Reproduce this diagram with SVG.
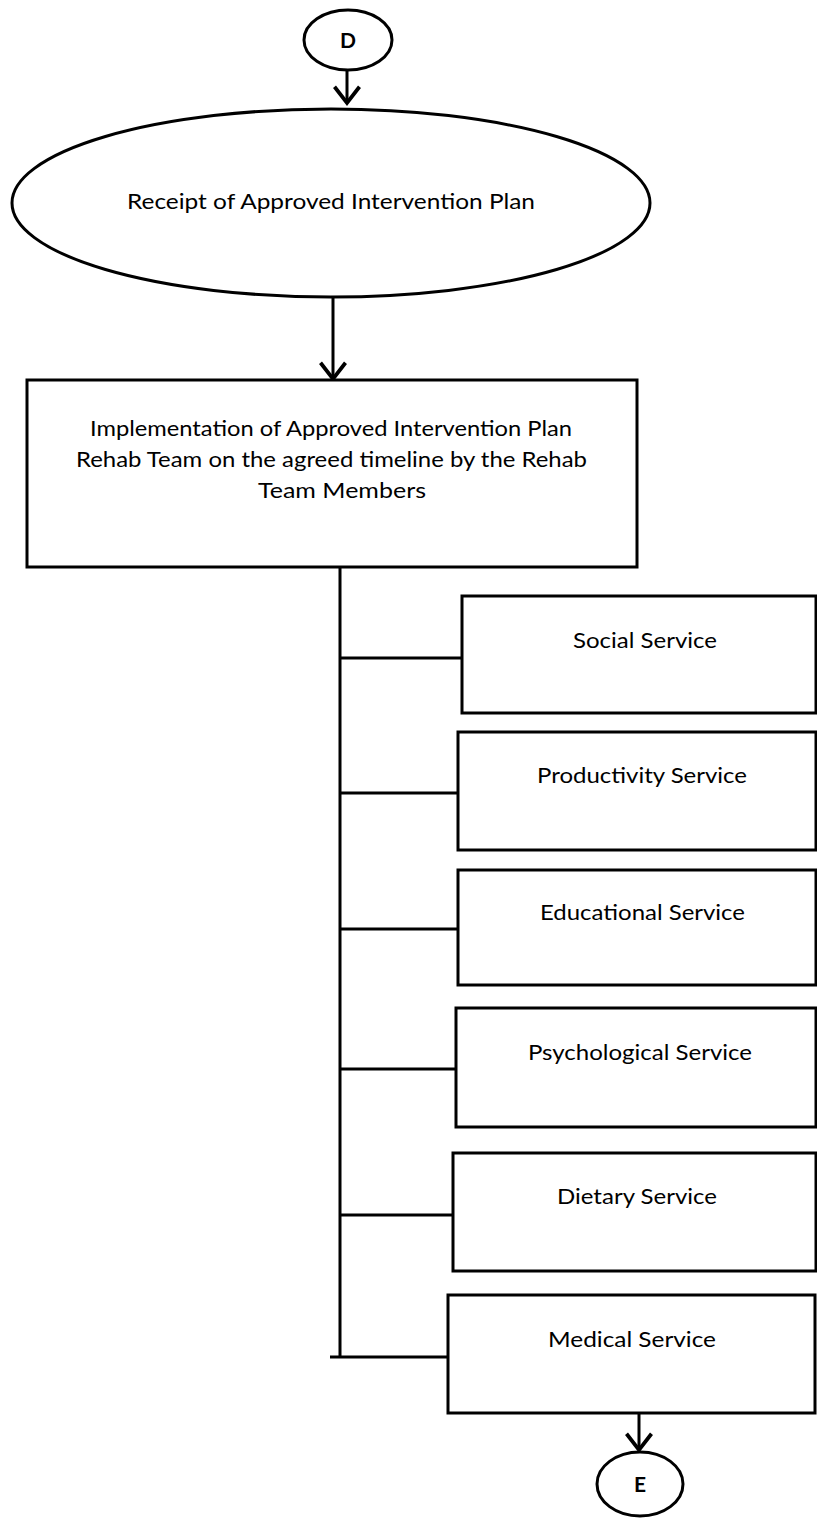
<svg xmlns="http://www.w3.org/2000/svg" width="817" height="1519" viewBox="0 0 817 1519">
<defs>
<style>
.shape{fill:#fff;stroke:#000;stroke-width:3}
.conn{fill:none;stroke:#000;stroke-width:3}
.t{font-family:Lato,"Open Sans","Liberation Sans",sans-serif;font-size:21px;fill:#000;text-anchor:middle}
.b{font-weight:bold}
</style>
<marker id="arr" markerUnits="userSpaceOnUse" markerWidth="30" markerHeight="30" viewBox="-16 -12 20 24" refX="0" refY="0" orient="auto">
<path d="M-13,-10 L0,0 L-13,10" fill="none" stroke="#000" stroke-width="3"/>
</marker>
</defs>
<rect width="817" height="1519" fill="#fff"/>
<g id="connectors">
<line class="conn" x1="347" y1="70" x2="347" y2="103" marker-end="url(#arr)"/>
<line class="conn" x1="333" y1="297" x2="333" y2="379" marker-end="url(#arr)"/>
<line class="conn" x1="340" y1="567" x2="340" y2="1357"/>
<line class="conn" x1="340" y1="658" x2="462" y2="658"/>
<line class="conn" x1="340" y1="793" x2="458" y2="793"/>
<line class="conn" x1="340" y1="929" x2="458" y2="929"/>
<line class="conn" x1="340" y1="1069" x2="456" y2="1069"/>
<line class="conn" x1="340" y1="1215" x2="453" y2="1215"/>
<line class="conn" x1="330" y1="1357" x2="448" y2="1357"/>
<line class="conn" x1="639" y1="1413" x2="639" y2="1450" marker-end="url(#arr)"/>
</g>
<g id="nodeD">
<ellipse class="shape" cx="348" cy="40" rx="44" ry="30"/>
<text class="t b" x="348" y="48">D</text>
</g>
<g id="nodeReceipt">
<ellipse class="shape" cx="331" cy="203" rx="319" ry="94"/>
<text class="t" x="331" y="209" textLength="408" lengthAdjust="spacingAndGlyphs">Receipt of Approved Intervention Plan</text>
</g>
<g id="nodeImplementation">
<rect class="shape" x="27" y="380" width="610" height="187"/>
<text class="t" x="331" y="436" textLength="482" lengthAdjust="spacingAndGlyphs">Implementation of Approved Intervention Plan</text>
<text class="t" x="331.5" y="467" textLength="511" lengthAdjust="spacingAndGlyphs">Rehab Team on the agreed timeline by the Rehab</text>
<text class="t" x="342" y="498" textLength="168" lengthAdjust="spacingAndGlyphs">Team Members</text>
</g>
<g id="nodeSocial">
<rect class="shape" x="462" y="596" width="354" height="117"/>
<text class="t" x="645" y="648" textLength="144" lengthAdjust="spacingAndGlyphs">Social Service</text>
</g>
<g id="nodeProductivity">
<rect class="shape" x="458" y="732" width="358" height="118"/>
<text class="t" x="642" y="783" textLength="210" lengthAdjust="spacingAndGlyphs">Productivity Service</text>
</g>
<g id="nodeEducational">
<rect class="shape" x="458" y="870" width="358" height="115"/>
<text class="t" x="642.5" y="920" textLength="205" lengthAdjust="spacingAndGlyphs">Educational Service</text>
</g>
<g id="nodePsychological">
<rect class="shape" x="456" y="1008" width="360" height="119"/>
<text class="t" x="640" y="1060" textLength="224" lengthAdjust="spacingAndGlyphs">Psychological Service</text>
</g>
<g id="nodeDietary">
<rect class="shape" x="453" y="1153" width="363" height="118"/>
<text class="t" x="637" y="1204" textLength="160" lengthAdjust="spacingAndGlyphs">Dietary Service</text>
</g>
<g id="nodeMedical">
<rect class="shape" x="448" y="1295" width="367" height="118"/>
<text class="t" x="632" y="1347" textLength="168" lengthAdjust="spacingAndGlyphs">Medical Service</text>
</g>
<g id="nodeE">
<ellipse class="shape" cx="640" cy="1484" rx="43" ry="32"/>
<text class="t b" x="640" y="1492">E</text>
</g>
</svg>
